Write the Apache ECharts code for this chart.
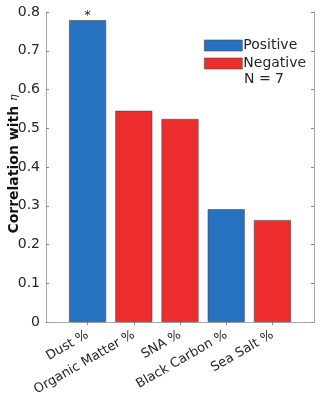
<!DOCTYPE html>
<html>
<head>
<meta charset="utf-8">
<script src="https://cdn.jsdelivr.net/npm/echarts@6/dist/echarts.min.js"></script>
<style>
html,body{margin:0;padding:0;background:#fff;}
#main{width:320px;height:396px;}
</style>
</head>
<body>
<div id="main"></div>
<script>
var categories = ['Dust %', 'Organic Matter %', 'SNA %', 'Black Carbon %', 'Sea Salt %'];
var values = [0.779, 0.545, 0.524, 0.291, 0.263];
var signs = ['Positive', 'Negative', 'Negative', 'Positive', 'Negative'];
var positions = [1, 2, 3, 4, 5];

var blue = '#2672c0';
var red = '#ee2e2e';
var frame = '#a6a6a6';
var font = 'DejaVu Sans';

function barData(sign) {
    var out = [];
    for (var i = 0; i < values.length; i++) {
        if (signs[i] == sign) {
            var item = {value: [positions[i], values[i]]};
            if (i == 0) {
                item.label = {show: true, position: 'top', formatter: '*', distance: -2,
                    fontSize: 13, color: '#262626', fontFamily: font};
            }
            out.push(item);
        }
    }
    return out;
}

var myChart = echarts.init(document.getElementById('main'));

var option = {
    animation: false,
    grid: {left: 46, right: 6, top: 12, bottom: 74, outerBoundsMode: 'none', containLabel: false},
    legend: {
        data: ['Positive', 'Negative'],
        icon: 'rect',
        orient: 'vertical',
        left: 204, top: 37, padding: 0,
        itemWidth: 38, itemHeight: 11, itemGap: 1,
        textStyle: {fontFamily: font, fontSize: 14, lineHeight: 17, color: '#262626', padding: [0, 0, 0, -4]},
        itemStyle: {borderColor: '#4a4a4a', borderWidth: 0.6},
        selectedMode: false
    },
    graphic: [{
        type: 'text', left: 244, top: 72,
        style: {text: 'N = 7', fontFamily: font, fontSize: 14, fill: '#262626'}
    }, {
        type: 'text', x: 14, y: 164, rotation: Math.PI / 2,
        style: {
            text: '{b|Correlation with }{e|η}',
            align: 'center', verticalAlign: 'middle',
            rich: {
                b: {fontFamily: font, fontSize: 14, fontWeight: 'bold', fill: '#111'},
                e: {fontFamily: 'DejaVu Serif', fontSize: 11, fontStyle: 'italic', fill: '#111'}
            }
        }
    }],
    xAxis: [{
        type: 'value', min: 0.1, max: 5.9,
        axisLine: {show: true, lineStyle: {color: frame}},
        axisTick: {show: true, inside: true, length: 3, customValues: positions, lineStyle: {color: '#555'}},
        splitLine: {show: false},
        axisLabel: {
            customValues: positions, rotate: 30, fontFamily: font, fontSize: 13, color: '#262626',
            margin: 12, padding: [0, 0, 0, 0],
            formatter: function (v) { return categories[Math.round(v) - 1]; }
        }
    }, {
        type: 'value', min: 0.1, max: 5.9, position: 'top',
        axisLine: {show: true, lineStyle: {color: frame}},
        axisTick: {show: true, inside: true, length: 3, customValues: positions, lineStyle: {color: '#888'}},
        axisLabel: {show: false}, splitLine: {show: false}
    }],
    yAxis: [{
        type: 'value', min: 0, max: 0.8, interval: 0.1,
        axisLine: {show: true, lineStyle: {color: frame}},
        axisTick: {show: true, inside: true, length: 3, lineStyle: {color: '#888'}},
        splitLine: {show: false},
        axisLabel: {fontFamily: font, fontSize: 14, color: '#262626', margin: 6,
            formatter: function (v) { return String(Math.round(v * 10) / 10); }}
    }, {
        type: 'value', min: 0, max: 0.8, interval: 0.1, position: 'right',
        axisLine: {show: true, lineStyle: {color: frame}},
        axisTick: {show: true, inside: true, length: 3, lineStyle: {color: '#888'}},
        axisLabel: {show: false}, splitLine: {show: false}
    }],
    series: [{
        name: 'Positive', type: 'bar', barWidth: 37, barGap: '-100%',
        itemStyle: {color: blue, borderColor: '#4a4a4a', borderWidth: 0.6},
        data: barData('Positive')
    }, {
        name: 'Negative', type: 'bar', barWidth: 37, barGap: '-100%',
        itemStyle: {color: red, borderColor: '#4a4a4a', borderWidth: 0.6},
        data: barData('Negative')
    }]
};

myChart.setOption(option);
</script>
</body>
</html>
